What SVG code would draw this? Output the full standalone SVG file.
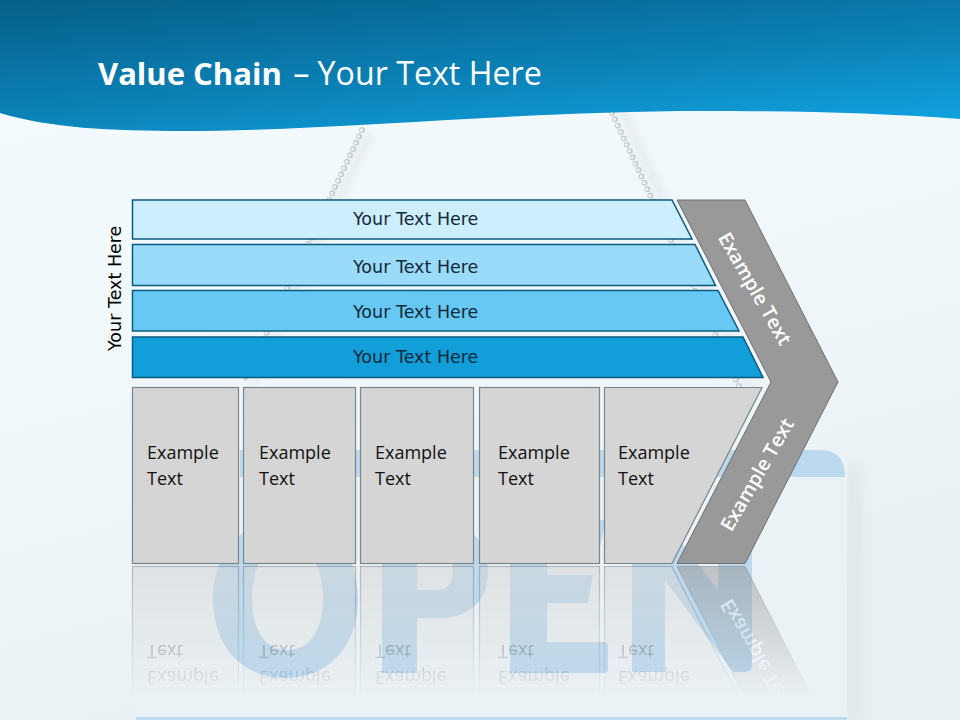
<svg xmlns="http://www.w3.org/2000/svg" xmlns:xlink="http://www.w3.org/1999/xlink" width="960" height="720" viewBox="0 0 960 720">
<style>
.row{stroke:#0d5a80;stroke-width:1.5}
.box{fill:#d5d5d5;stroke:#7d8488;stroke-width:1.2}
.rt{font-family:"DejaVu Sans",Verdana,sans-serif;font-size:17.500px;fill:#14293a}
.ex{font-family:"Open Sans","Noto Sans",sans-serif;font-size:18px;fill:#111}
.ch{font-family:"Open Sans","Noto Sans",sans-serif;font-size:19.500px;font-weight:600;fill:#fff;text-anchor:middle}
.letter{fill:#bcd9ee}
</style>
<defs>
<linearGradient id="bg" x1="0" y1="0" x2="0.35" y2="1"><stop offset="0" stop-color="#f5fcff"/><stop offset="0.6" stop-color="#f0f7fb"/><stop offset="1" stop-color="#e8f0f3"/></linearGradient>
<linearGradient id="bn" gradientUnits="userSpaceOnUse" x1="0" y1="0" x2="17.500" y2="204"><stop offset="0" stop-color="#055f88"/><stop offset="0.55" stop-color="#0b80b5"/><stop offset="1" stop-color="#11a3e0"/></linearGradient>
<linearGradient id="fade" gradientUnits="userSpaceOnUse" x1="0" y1="565" x2="0" y2="698"><stop offset="0" stop-color="#fff" stop-opacity="0.55"/><stop offset="0.6" stop-color="#fff" stop-opacity="0.25"/><stop offset="1" stop-color="#fff" stop-opacity="0"/></linearGradient>
<mask id="rm" maskUnits="userSpaceOnUse" x="0" y="560" width="960" height="160"><rect x="0" y="560" width="960" height="160" fill="url(#fade)"/></mask>
<filter id="b6" x="-100%" y="-30%" width="300%" height="160%"><feGaussianBlur stdDeviation="7"/></filter>
<filter id="b3" x="-30%" y="-30%" width="160%" height="160%"><feGaussianBlur stdDeviation="4"/></filter>
</defs>

<g id="background">
<rect width="960" height="720" fill="url(#bg)"/>
<path d="M362 130L243 383" stroke="#e6ecef" stroke-width="10" filter="url(#b3)" transform="translate(8 2)" fill="none"/>
<path d="M612 113L740 388" stroke="#e6ecef" stroke-width="10" filter="url(#b3)" transform="translate(10 -2)" fill="none"/>
<path d="M362 130L243 383" stroke="#c6ced2" stroke-width="6" stroke-linecap="round" stroke-dasharray="0 7" fill="none"/>
<path d="M612 113L740 388" stroke="#c6ced2" stroke-width="6" stroke-linecap="round" stroke-dasharray="0 7" fill="none"/>
<path d="M361.500 130L242.500 383" stroke="#f4f7f8" stroke-width="3" stroke-linecap="round" stroke-dasharray="0 7" fill="none"/>
<path d="M611.500 113L739.500 388" stroke="#f4f7f8" stroke-width="3" stroke-linecap="round" stroke-dasharray="0 7" fill="none"/>
<rect x="849" y="465" width="12" height="255" fill="#dbe5e7" filter="url(#b6)"/>
<path d="M136 450H825Q847 450 847 472V720H136Z" fill="#ebf2f6"/>
<path d="M240 450H820Q845 450 845 477H240Z" fill="#bcd9ee"/>
<rect x="136" y="717" width="711" height="3" fill="#bcd9ee"/>
<path class="letter" fill-rule="evenodd" d="M285.500 520C328 520 358 551 358 599C358 647 328 678 285.500 678C243 678 213 647 213 599C213 551 243 520 285.500 520ZM287.500 546C265 546 252 566 252 598C252 630 265 650 287.500 650C310 650 323 630 323 598C323 566 310 546 287.500 546Z"/>
<path class="letter" fill-rule="evenodd" d="M382 525H445C475 525 488 545 488 572C488 600 470 618 440 618H417V673H382ZM417 552V590H438C448 590 453 582 453 572C453 562 450 552 440 552Z"/>
<path class="letter" d="M510 520H606L600 547H547V575H593L588 603H547V642H604Q608 642 608 646V669Q608 673 604 673H510Z"/>
<path class="letter" d="M632 520H664L718 590V520H752V665Q752 672 745 672H733L665 580V672H632Z"/>
</g>

<g id="banner">
<path d="M0 113C50 128 110 131 184 131C330 131 520 111 704 111C800 111 880 113 960 119V0H0Z" fill="url(#bn)"/>
<text x="98" y="85" font-family="'Open Sans','Noto Sans',sans-serif" font-size="32.200px" fill="#fff"><tspan font-weight="700" font-size="31px">Value Chain</tspan><tspan dx="3"> – Your Text Here</tspan></text>
</g>

<g id="label-left"><text transform="translate(121 351) rotate(-90)" class="rt" style="fill:#000">Your Text Here</text></g>

<g id="rows">
<g id="row1"><path class="row" fill="#cdeefe" d="M132.500 200H672L692 239H132.500Z"/><text class="rt" x="353" y="225">Your Text Here</text></g>
<g id="row2"><path class="row" fill="#99dbf8" d="M132.500 244.500H695L715.500 285.500H132.500Z"/><text class="rt" x="353" y="273">Your Text Here</text></g>
<g id="row3"><path class="row" fill="#66c8f3" d="M132.500 290.500H718L739 331H132.500Z"/><text class="rt" x="353" y="318">Your Text Here</text></g>
<g id="row4"><path class="row" fill="#119ed9" d="M132.500 337H743L763 377.500H132.500Z"/><text class="rt" x="353" y="363">Your Text Here</text></g>
</g>

<g id="main-blocks">
<g id="box1"><rect class="box" x="132.500" y="387.500" width="106" height="176"/><text class="ex" x="147" y="459">Example</text><text class="ex" x="147" y="485">Text</text></g>
<g id="box2"><rect class="box" x="243.500" y="387.500" width="112" height="176"/><text class="ex" x="259" y="459">Example</text><text class="ex" x="259" y="485">Text</text></g>
<g id="box3"><rect class="box" x="360.500" y="387.500" width="113" height="176"/><text class="ex" x="375" y="459">Example</text><text class="ex" x="375" y="485">Text</text></g>
<g id="box4"><rect class="box" x="479.500" y="387.500" width="120" height="176"/><text class="ex" x="498" y="459">Example</text><text class="ex" x="498" y="485">Text</text></g>
<g id="box5"><path class="box" d="M604.500 387.500H762L672 563.500H604.500Z"/><text class="ex" x="618" y="459">Example</text><text class="ex" x="618" y="485">Text</text></g>
<g id="chevron"><path d="M677 200H745L838 382L745 563.500H677L771 382Z" fill="#999" stroke="#6f6f6f" stroke-width="1"/>
<text class="ch" transform="translate(749 292) rotate(60)">Example Text</text>
<text class="ch" transform="translate(763 478) rotate(-60)">Example Text</text></g>
</g>

<g id="reflection" mask="url(#rm)">
<use href="#main-blocks" transform="matrix(1 0 0 -1 0 1130)"/>
</g>
</svg>
